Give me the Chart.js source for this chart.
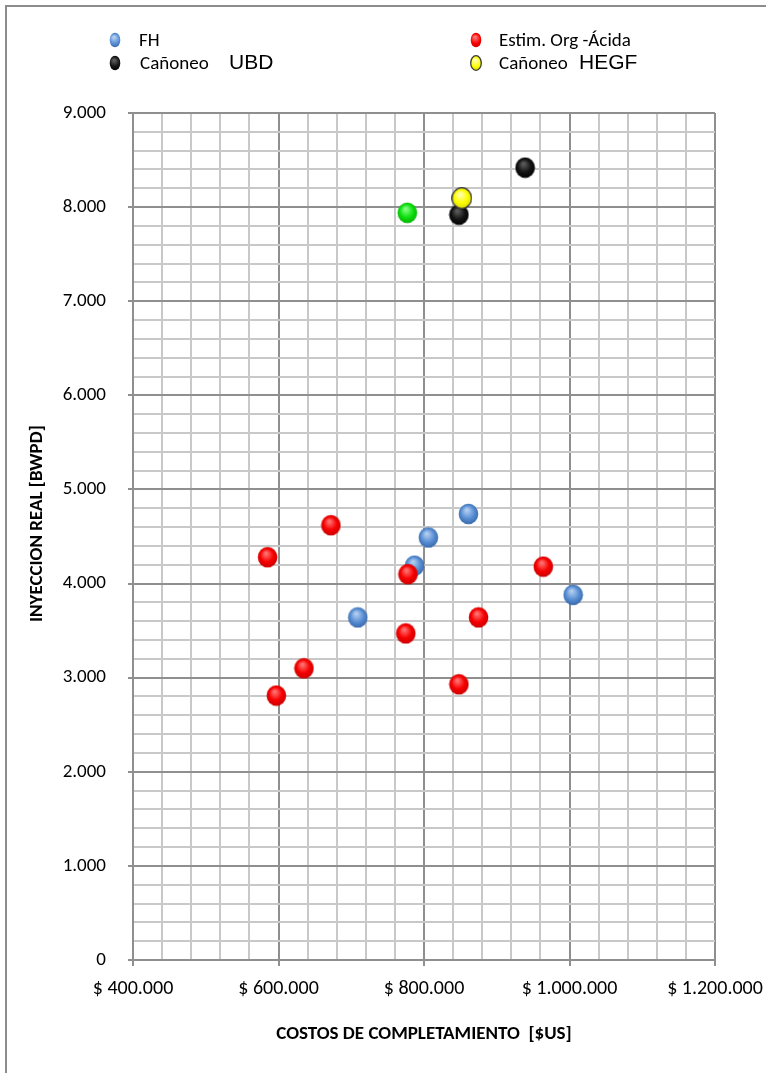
<!DOCTYPE html>
<html>
<head>
<meta charset="utf-8">
<script src="https://cdn.jsdelivr.net/npm/chart.js@4.4.1/dist/chart.umd.min.js"></script>
<style>
  body { margin: 0; background: #fff; }
  #wrap { position: relative; width: 766px; height: 1073px; overflow: hidden; }
  #frame { position: absolute; left: 5px; top: 5px; width: 800px; height: 1100px;
           border-left: 2px solid #8c8c8c; border-top: 2px solid #8c8c8c; }
  canvas { position: absolute; left: 0; top: 0; }
</style>
</head>
<body>
<div id="wrap">
  <div id="frame"></div>
  <canvas id="chart" width="766" height="1073"></canvas>
</div>
<script>
// series data: [costo completamiento US$, inyeccion real BWPD]
const fhCost   = [709000, 787000, 806000, 861000, 1005000];
const fhInj    = [3640, 4190, 4490, 4740, 3880];

const acidCost = [672000, 585000, 778000, 964000, 875000, 775000, 635000, 597000, 848000];
const acidInj  = [4620, 4280, 4100, 4180, 3640, 3470, 3100, 2810, 2930];

const ubdCost  = [848000, 939000];
const ubdInj   = [7920, 8420];

const hegfCost = [852000];
const hegfInj  = [8095];

const greenCost = [777000];
const greenInj  = [7940];

const legendLabels = ['FH', 'Estim. Org -Ácida', 'Cañoneo', 'Cañoneo'];
const legendExtra  = ['', '', 'UBD', 'HEGF'];

const xTicks = [400000, 600000, 800000, 1000000, 1200000];
const yTicks = [0, 1000, 2000, 3000, 4000, 5000, 6000, 7000, 8000, 9000];

const FONT = "Carlito, 'Liberation Sans Narrow', 'DejaVu Sans Condensed', sans-serif";

function toPoints(xs, ys) {
    return xs.map((x, i) => ({ x: x, y: ys[i] }));
}

function fmt(v) {
    return String(v).replace(/\B(?=(\d{3})+(?!\d))/g, '.');
}

// little shaded ball used as the marker
function sphere(base, light, dark, w, h, outline) {
    const c = document.createElement('canvas');
    c.width = w; c.height = h;
    const g = c.getContext('2d');
    const grad = g.createRadialGradient(w * 0.42, h * 0.32, 1, w / 2, h / 2, Math.max(w, h) / 2);
    grad.addColorStop(0, light);
    grad.addColorStop(0.55, base);
    grad.addColorStop(1, dark);
    g.fillStyle = grad;
    g.beginPath();
    g.ellipse(w / 2, h / 2, w / 2 - 0.7, h / 2 - 0.7, 0, 0, Math.PI * 2);
    g.fill();
    if (outline) {
        g.strokeStyle = outline;
        g.lineWidth = 1.3;
        g.stroke();
    }
    return c;
}

const looks = {
    blue:   ['#5a8fd4', '#b0cdf0', '#3464a6', null],
    red:    ['#f80000', '#ff7070', '#c40000', null],
    black:  ['#141414', '#5a5a5a', '#000000', null],
    yellow: ['#ffff00', '#ffffb0', '#d6d600', '#3a3a3a'],
    green:  ['#10e010', '#80ff80', '#00b000', null]
};

function marker(name, w, h) {
    const l = looks[name];
    return sphere(l[0], l[1], l[2], w, h, l[3]);
}

const datasets = [
    { label: legendLabels[0], data: toPoints(fhCost, fhInj), pointStyle: marker('blue', 21, 22), order: 5, look: 'blue' },
    { label: legendLabels[1], data: toPoints(acidCost, acidInj), pointStyle: marker('red', 21, 22), order: 4, look: 'red' },
    { label: legendLabels[2], data: toPoints(ubdCost, ubdInj), pointStyle: marker('black', 21, 22), order: 3, look: 'black' },
    { label: legendLabels[3], data: toPoints(hegfCost, hegfInj), pointStyle: marker('yellow', 21, 22), order: 2, look: 'yellow' },
    { label: '', data: toPoints(greenCost, greenInj), pointStyle: marker('green', 21, 22), order: 1, look: 'green' }
];
datasets.forEach(d => { d.pointRadius = 10; d.showLine = false; });

// legend drawn by hand, two columns like the original sheet
const legendPlugin = {
    id: 'sheetLegend',
    afterDraw(chart) {
        const ctx = chart.ctx;
        const spots = [[115, 40], [476, 40], [115, 63], [476, 63]];
        const textX = [139, 499, 140, 499];
        const extraX = [0, 0, 229, 579];
        ctx.save();
        ctx.textBaseline = 'middle';
        ctx.fillStyle = '#000';
        for (let i = 0; i < 4; i++) {
            const [mx, my] = spots[i];
            const m = marker(datasets[i].look, 12, 16);
            ctx.drawImage(m, mx - 6, my - 8);
            ctx.font = "19px " + FONT;
            ctx.fillText(legendLabels[i], textX[i], my + 1);
            if (legendExtra[i]) {
                ctx.font = "21px 'Liberation Sans', Arial, sans-serif";
                ctx.fillText(legendExtra[i], extraX[i], my);
            }
        }
        ctx.restore();
    }
};

new Chart(document.getElementById('chart'), {
    type: 'scatter',
    data: { datasets: datasets },
    plugins: [legendPlugin],
    options: {
        responsive: false,
        animation: false,
        layout: { padding: { top: 113, right: 51, bottom: 0, left: 0 } },
        plugins: { legend: { display: false }, tooltip: { enabled: false } },
        scales: {
            x: {
                type: 'linear',
                min: xTicks[0],
                max: xTicks[xTicks.length - 1],
                afterFit: s => { s.height = 113; s.paddingLeft = 0; s.paddingRight = 0; },
                ticks: {
                    stepSize: 40000,
                    autoSkip: false,
                    maxRotation: 0,
                    padding: 11,
                    color: '#000',
                    font: { family: FONT, size: 20 },
                    callback: v => xTicks.includes(v) ? '$ ' + fmt(v) : ''
                },
                grid: {
                    lineWidth: 2,
                    color: c => xTicks.includes(c.tick.value) ? '#8f8f8f' : '#c8c8c8',
                    tickColor: c => xTicks.includes(c.tick.value) ? '#8f8f8f' : 'rgba(0,0,0,0)',
                    tickLength: 6
                },
                border: { color: '#8f8f8f', width: 2 },
                title: {
                    display: true,
                    text: 'COSTOS DE COMPLETAMIENTO  [$US]',
                    color: '#000',
                    font: { family: FONT, size: 19, weight: 'bold' },
                    padding: { top: 0, bottom: 27 }
                }
            },
            y: {
                min: yTicks[0],
                max: yTicks[yTicks.length - 1],
                afterFit: s => { s.width = 133; },
                ticks: {
                    stepSize: 200,
                    autoSkip: false,
                    padding: 22,
                    color: '#000',
                    font: { family: FONT, size: 19 },
                    callback: v => yTicks.includes(v) ? fmt(v) : ''
                },
                grid: {
                    lineWidth: 2,
                    color: c => yTicks.includes(c.tick.value) ? '#8f8f8f' : '#c8c8c8',
                    tickColor: c => yTicks.includes(c.tick.value) ? '#8f8f8f' : 'rgba(0,0,0,0)',
                    tickLength: 5
                },
                border: { color: '#8f8f8f', width: 2 },
                title: {
                    display: true,
                    // leading blanks push the rotated title a bit higher, as in the sheet
                    text: '      INYECCION REAL [BWPD]',
                    color: '#000',
                    font: { family: FONT, size: 19, weight: 'bold' },
                    padding: { top: 26, bottom: 0 }
                }
            }
        }
    }
});
</script>
</body>
</html>
